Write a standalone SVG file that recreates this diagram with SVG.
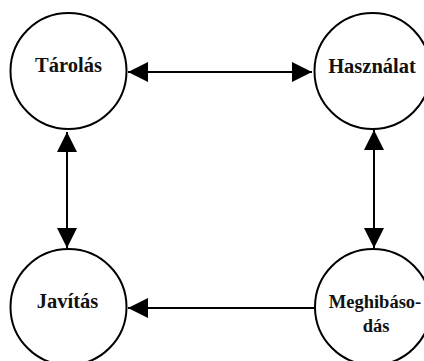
<svg xmlns="http://www.w3.org/2000/svg" width="424" height="361" viewBox="0 0 424 361">
<style>
.n{fill:#fff;stroke:#000;stroke-width:2}
.t{font-family:"Liberation Serif","Times New Roman",serif;font-weight:bold;font-size:20.5px;fill:#111;text-anchor:middle}
.s{font-size:18.5px}
.c{stroke:#000;stroke-width:2;fill:none}
</style>
<defs>
<marker id="ah" markerWidth="20" markerHeight="20" viewBox="0 0 20 20" refX="20" refY="10" orient="auto-start-reverse" markerUnits="userSpaceOnUse">
<path d="M0,0 L20,10 L0,20 Z" fill="#000"/>
</marker>
</defs>
<rect width="424" height="361" fill="#fff"/>
<g id="connectors">
<line class="c" x1="128" y1="72" x2="312" y2="72" marker-start="url(#ah)" marker-end="url(#ah)"/>
<line class="c" x1="67" y1="132" x2="67" y2="248" marker-start="url(#ah)" marker-end="url(#ah)"/>
<line class="c" x1="374" y1="130" x2="374" y2="248" marker-start="url(#ah)" marker-end="url(#ah)"/>
<line class="c" x1="314" y1="308" x2="128" y2="308" marker-end="url(#ah)"/>
</g>
<g id="tarolas">
<circle class="n" cx="68.5" cy="71" r="58"/>
<text class="t" x="68.5" y="72">Tárolás</text>
</g>
<g id="hasznalat">
<circle class="n" cx="372.5" cy="71" r="58"/>
<text class="t" x="372" y="73">Használat</text>
</g>
<g id="javitas">
<circle class="n" cx="68.5" cy="307" r="58"/>
<text class="t" x="67.5" y="308">Javítás</text>
</g>
<g id="meghibasodas">
<circle class="n" cx="373" cy="307" r="58"/>
<text class="t s" x="375" y="308">Meghibáso-</text>
<text class="t s" x="376" y="332">dás</text>
</g>
</svg>
